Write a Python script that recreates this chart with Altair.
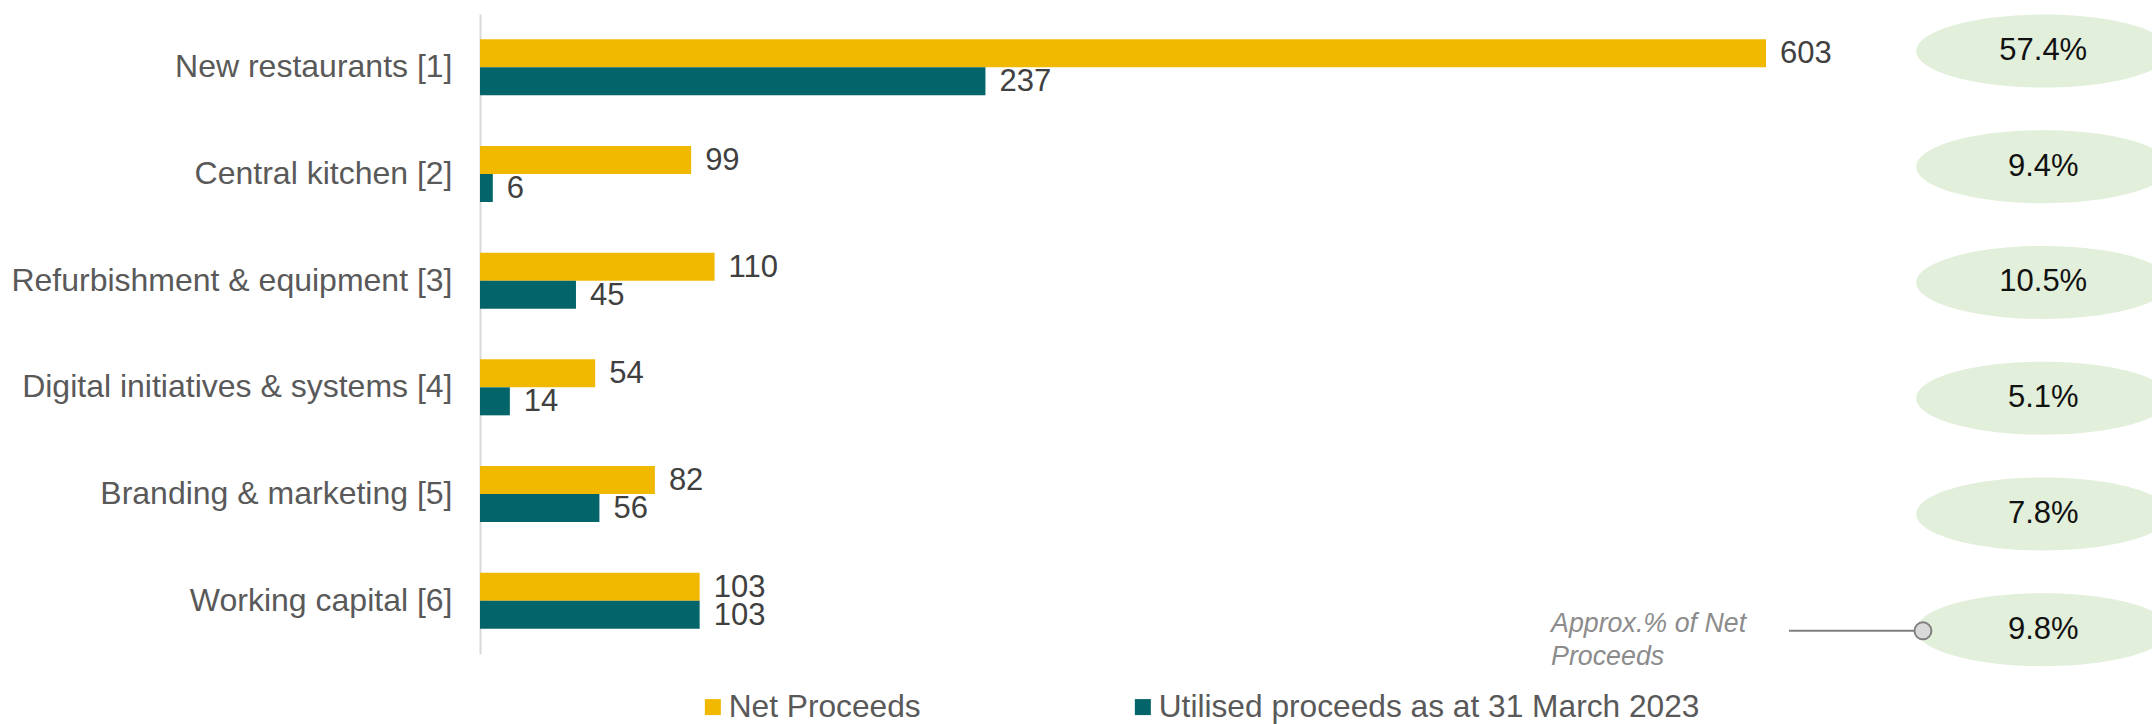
import altair as alt
import pandas as pd

FONT = "Liberation Sans"

# ---- data ----
categories = [
    "New restaurants [1]",
    "Central kitchen [2]",
    "Refurbishment & equipment [3]",
    "Digital initiatives & systems [4]",
    "Branding & marketing [5]",
    "Working capital [6]",
]
net_proceeds = [603, 99, 110, 54, 82, 103]
utilised = [237, 6, 45, 14, 56, 103]
pct_labels = ["57.4%", "9.4%", "10.5%", "5.1%", "7.8%", "9.8%"]
series = ["Net Proceeds", "Utilised proceeds as at 31 March 2023"]
colors = ["#F1B800", "#03656A"]
note_lines = ["Approx.% of Net", "Proceeds"]

bars_df = pd.DataFrame(
    {
        "category": categories * 2,
        "series": [series[0]] * len(categories) + [series[1]] * len(categories),
        "value": net_proceeds + utilised,
    }
)
pct_df = pd.DataFrame({"idx": list(range(len(pct_labels))), "pct": pct_labels})
one_df = pd.DataFrame({"k": [0]})

# ---- scales ----
x_scale = alt.Scale(domain=[0, 784], nice=False, zero=True)
y_scale = alt.Scale(paddingInner=0.475, paddingOuter=0.2375)
ey = alt.Scale(domain=[-0.32, 5.21], reverse=True, nice=False, zero=False)

# ellipse as custom symbol path (bezier approximation)
ry = 0.2874
k = 0.5523
kr = k * ry
ELLIPSE = (
    f"M -1 0 C -1 {-kr:.4f} {-k} {-ry} 0 {-ry} "
    f"C {k} {-ry} 1 {-kr:.4f} 1 0 "
    f"C 1 {kr:.4f} {k} {ry} 0 {ry} "
    f"C {-k} {ry} -1 {kr:.4f} -1 0 Z"
)

x_enc = alt.X("value:Q", scale=x_scale, axis=None)
y_enc = alt.Y(
    "category:N",
    sort=categories,
    scale=y_scale,
    axis=alt.Axis(
        title=None,
        labelFontSize=32,
        labelFont=FONT,
        labelColor="#595959",
        labelPadding=28,
        labelLimit=0,
        ticks=False,
        domainColor="#D9D9D9",
        domainWidth=2,
        grid=False,
    ),
)
yoff = alt.YOffset("series:N", sort=series)

base = alt.Chart(bars_df)
bars = base.mark_bar().encode(
    x=x_enc,
    y=y_enc,
    yOffset=yoff,
    color=alt.Color(
        "series:N",
        sort=series,
        scale=alt.Scale(domain=series, range=colors),
        legend=alt.Legend(
            title=None,
            orient="none",
            legendX=217,
            legendY=677,
            direction="horizontal",
            symbolType="square",
            symbolSize=256,
            symbolStrokeWidth=0,
            labelFontSize=31.7,
            labelFont=FONT,
            labelColor="#595959",
            labelOffset=0,
            columnPadding=206,
            labelLimit=0,
            padding=0,
        ),
    ),
)
values = base.mark_text(
    align="left", baseline="middle", dx=14, dy=1, fontSize=31, font=FONT, color="#404040"
).encode(x=x_enc, y=y_enc, yOffset=yoff, text="value:Q")

bar_layer = alt.layer(bars, values)

# ---- percentage ellipses + annotation ----
ey_enc = alt.Y("idx:Q", scale=ey, axis=None)
pbase = alt.Chart(pct_df)
ellipses = pbase.mark_point(
    shape=ELLIPSE, size=64516, filled=True, color="#E2EFDA", opacity=1, strokeWidth=0
).encode(x=alt.X(datum=733, type="quantitative", scale=x_scale), y=ey_enc)
pct_text = pbase.mark_text(
    align="center", baseline="middle", fontSize=31, font=FONT, color="#111111"
).encode(x=alt.X(datum=733, type="quantitative"), y=ey_enc, text="pct:N")

obase = alt.Chart(one_df)
connector = obase.mark_rule(color="#7F7F7F", strokeWidth=2).encode(
    x=alt.X(datum=613.8, type="quantitative"),
    x2=alt.X2(datum=676.6),
    y=alt.Y(datum=5.01, type="quantitative", scale=ey, axis=None),
)
dot = obase.mark_point(
    shape="circle", size=289, fill="#D9D9D9", stroke="#7F7F7F", strokeWidth=2, opacity=1
).encode(
    x=alt.X(datum=676.6, type="quantitative"),
    y=alt.Y(datum=5.01, type="quantitative", scale=ey, axis=None),
)
note = obase.mark_text(
    text=note_lines,
    align="left",
    baseline="middle",
    fontSize=26.8,
    font=FONT,
    fontStyle="italic",
    color="#8C8C8C",
    lineHeight=33,
).encode(
    x=alt.X(datum=502.2, type="quantitative"),
    y=alt.Y(datum=4.95, type="quantitative", scale=ey, axis=None),
)

pct_layer = alt.layer(ellipses, connector, dot, pct_text, note)

chart = (
    alt.layer(bar_layer, pct_layer)
    .resolve_scale(y="independent")
    .properties(
        width=1672,
        height=640,
        padding={"left": 480, "top": 14, "right": 0, "bottom": 70},
        autosize=alt.AutoSizeParams(type="none"),
    )
    .configure(font=FONT)
    .configure_view(stroke=None)
)

chart.save("out.html", embed_options={"renderer": "svg", "actions": False})
